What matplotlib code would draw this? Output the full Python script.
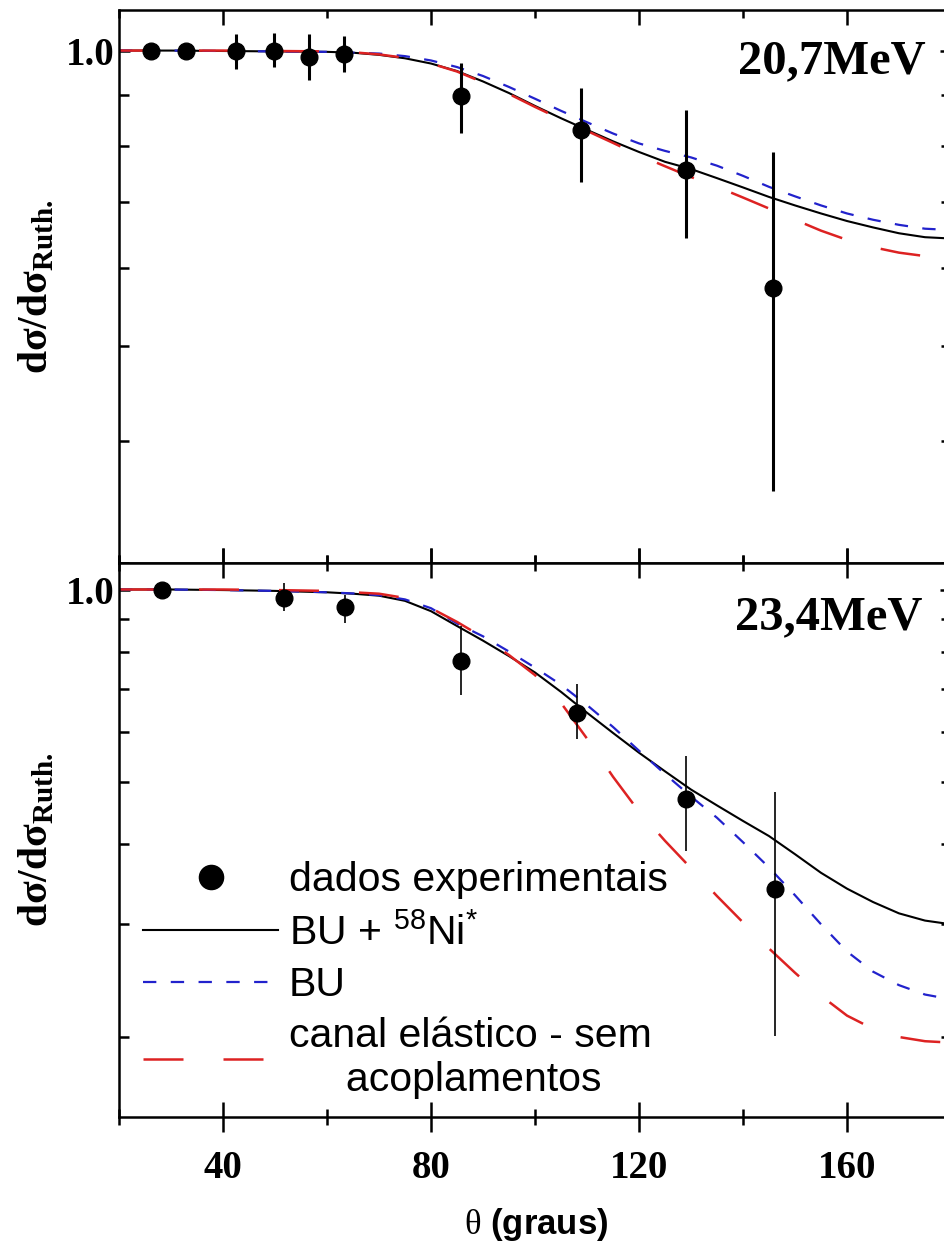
import matplotlib
matplotlib.use("Agg")
import matplotlib.pyplot as plt
from matplotlib.ticker import FixedLocator, FixedFormatter, NullFormatter, MultipleLocator
from matplotlib.lines import Line2D
import numpy as np

plt.rcParams['mathtext.fontset'] = 'custom'
plt.rcParams['mathtext.rm'] = 'Liberation Serif'

# angles used for the calculated curves (degrees)
theta = [20, 30, 40, 50, 60, 65, 70, 75, 80, 85, 90, 95, 100, 105, 110, 115,
         120, 125, 130, 135, 140, 145, 150, 155, 160, 165, 170, 175, 180]

# ---- 20,7 MeV ----
bu_ni_207 = [1.0, 1.0, 0.999, 0.998, 0.997, 0.995, 0.99, 0.982, 0.97, 0.953, 0.93, 0.905, 0.878, 0.853, 0.83, 0.808,
             0.788, 0.77, 0.757, 0.741, 0.725, 0.709, 0.695, 0.682, 0.67, 0.66, 0.651, 0.645, 0.643]
bu_207 = [1.0, 1.0, 0.999, 0.998, 0.997, 0.995, 0.993, 0.987, 0.977, 0.962, 0.942, 0.918, 0.893, 0.868, 0.845, 0.823,
          0.804, 0.79, 0.778, 0.763, 0.745, 0.726, 0.71, 0.695, 0.682, 0.672, 0.664, 0.658, 0.656]
elast_207 = [1.0, 1.0, 1.0, 0.999, 0.998, 0.996, 0.991, 0.983, 0.97, 0.952, 0.928, 0.903, 0.876, 0.851, 0.828, 0.805,
             0.782, 0.762, 0.743, 0.726, 0.708, 0.69, 0.672, 0.655, 0.641, 0.63, 0.622, 0.617, 0.615]
theta_exp_207 = [26.2, 32.9, 42.5, 49.8, 56.5, 63.3, 85.8, 108.8, 129.0, 145.8]
ratio_exp_207 = [1.0, 1.0, 1.0, 1.0, 0.984, 0.993, 0.898, 0.829, 0.755, 0.573]
low_207 = [0.99, 0.99, 0.958, 0.961, 0.934, 0.95, 0.823, 0.734, 0.644, 0.355]
high_207 = [1.01, 1.01, 1.04, 1.043, 1.04, 1.036, 0.972, 0.915, 0.869, 0.788]

# ---- 23,4 MeV ----
bu_ni_234 = [1.0, 1.0, 0.998, 0.995, 0.99, 0.985, 0.978, 0.96, 0.925, 0.877, 0.832, 0.787, 0.742, 0.692, 0.642, 0.597,
             0.556, 0.52, 0.487, 0.46, 0.435, 0.412, 0.386, 0.361, 0.341, 0.325, 0.312, 0.304, 0.30]
bu_234 = [1.0, 1.0, 0.998, 0.995, 0.99, 0.986, 0.98, 0.965, 0.935, 0.885, 0.845, 0.80, 0.755, 0.71, 0.66, 0.61,
          0.56, 0.515, 0.475, 0.44, 0.403, 0.368, 0.333, 0.30, 0.272, 0.253, 0.241, 0.233, 0.229]
elast_234 = [1.0, 1.0, 1.0, 0.998, 0.995, 0.99, 0.985, 0.97, 0.935, 0.89, 0.842, 0.79, 0.735, 0.665, 0.585, 0.51,
             0.45, 0.405, 0.367, 0.332, 0.302, 0.275, 0.252, 0.232, 0.216, 0.206, 0.20, 0.197, 0.196]
theta_exp_234 = [28.3, 51.7, 63.5, 85.8, 108.1, 129.0, 146.2]
ratio_exp_234 = [1.0, 0.971, 0.94, 0.773, 0.641, 0.471, 0.341]
low_234 = [0.99, 0.927, 0.887, 0.684, 0.585, 0.390, 0.201]
high_234 = [1.01, 1.022, 0.979, 0.878, 0.711, 0.550, 0.483]

labels = ['dados experimentais', 'BU + $^{\\mathregular{58}}$Ni$^{\\mathregular{*}}$', 'BU',
          'canal elástico - sem\n     acoplamentos']

blue = '#2222cc'
red = '#dd2222'

fig = plt.figure(figsize=(9.44, 12.43), dpi=100)
ax1 = fig.add_axes([119 / 944, 1 - 563 / 1243, 832 / 944, 553 / 1243])
ax2 = fig.add_axes([119 / 944, 1 - 1117 / 1243, 832 / 944, 554 / 1243])


def draw_panel(ax, bu_ni, bu, elast, tx, ty, lo, hi, elw):
    l1, = ax.plot(theta, bu_ni, color='black', lw=1.5)
    l2, = ax.plot(theta, bu, color=blue, lw=1.6, dashes=(6, 6.5))
    l3, = ax.plot(theta, elast, color=red, lw=1.8, dashes=(16, 16))
    ty = np.array(ty)
    yerr = [ty - np.array(lo), np.array(hi) - ty]
    ax.errorbar(tx, ty, yerr=yerr, fmt='o', color='black', ms=12,
                elinewidth=elw, capsize=0, zorder=5)
    ax.set_xlim(20, 180)
    ax.set_yscale('log')
    ax.xaxis.set_major_locator(MultipleLocator(40))
    ax.xaxis.set_minor_locator(MultipleLocator(20))
    ax.yaxis.set_major_locator(FixedLocator([1.0]))
    ax.yaxis.set_major_formatter(FixedFormatter(['1.0']))
    ax.yaxis.set_minor_locator(FixedLocator([0.2, 0.3, 0.4, 0.5, 0.6, 0.7, 0.8, 0.9]))
    ax.yaxis.set_minor_formatter(NullFormatter())
    ax.tick_params(axis='y', which='both', direction='in', left=True, right=True, width=1.8, pad=3)
    ax.tick_params(axis='y', which='major', length=8)
    ax.tick_params(axis='y', which='minor', length=7)
    for s in ax.spines.values():
        s.set_linewidth(1.8)
    for t in ax.get_yticklabels():
        t.set_fontfamily('Liberation Serif')
        t.set_fontweight('bold')
        t.set_fontsize(28)
    ax.set_ylabel('dσ/dσ$_{\\mathregular{Ruth.}}$', fontsize=30, fontweight='bold',
                  family='Liberation Serif')
    ax.yaxis.set_label_coords(-0.075, 0.5)
    return l1, l2, l3


draw_panel(ax1, bu_ni_207, bu_207, elast_207, theta_exp_207, ratio_exp_207,
           low_207, high_207, 2.2)
ax1.set_ylim(0.3, 1.1)
ax1.tick_params(axis='x', which='both', direction='in', top=True, bottom=True,
                labelbottom=False, width=1.8)
ax1.tick_params(axis='x', which='major', length=11)
ax1.tick_params(axis='x', which='minor', length=6)
ax1.text(0.969, 0.886, '20,7MeV', transform=ax1.transAxes, ha='right', va='baseline',
         fontsize=35, fontweight='bold', family='Liberation Serif')

l1, l2, l3 = draw_panel(ax2, bu_ni_234, bu_234, elast_234, theta_exp_234, ratio_exp_234,
                        low_234, high_234, 1.2)
ax2.set_ylim(0.15, 1.1)
ax2.tick_params(axis='x', which='both', direction='inout', top=True, bottom=True, width=1.8)
ax2.tick_params(axis='x', which='major', length=21, pad=13)
ax2.tick_params(axis='x', which='minor', length=11)
for t in ax2.get_xticklabels():
    t.set_fontfamily('Liberation Serif')
    t.set_fontweight('bold')
    t.set_fontsize(28)
ax2.text(0.966, 0.881, '23,4MeV', transform=ax2.transAxes, ha='right', va='baseline',
         fontsize=35, fontweight='bold', family='Liberation Serif')

ax2.set_xlabel('$\\mathrm{\\theta}$ (graus)', fontsize=25, fontweight='bold',
               family='Liberation Sans', math_fontfamily='custom')
ax2.xaxis.set_label_coords(0.502, -0.16)

# legend marker without the error bar
dot = Line2D([], [], marker='o', ls='none', color='black', ms=12)
ax2.legend([dot, l1, l2, l3], labels, loc='upper left', bbox_to_anchor=(0.029, 0.462),
           frameon=False, borderpad=0, borderaxespad=0, handlelength=3.3,
           handletextpad=0.25, labelspacing=0.33, markerscale=1.45,
           prop={'family': 'Liberation Sans', 'size': 29.5})

plt.savefig('out.png', dpi=100)
